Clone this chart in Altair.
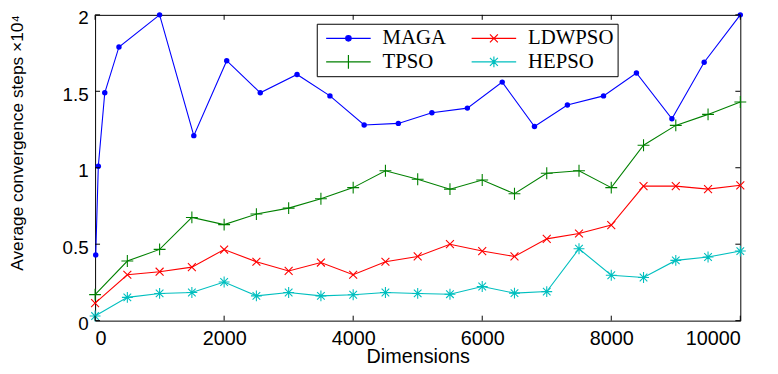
import altair as alt
import pandas as pd

# ---- data ----
series_names = ["MAGA", "LDWPSO", "TPSO", "HEPSO"]
series_colors = ["#0000FF", "#FF0000", "#008000", "#00BFBF"]

maga_x = [10, 50, 150, 370, 1000, 1530, 2040, 2560, 3130, 3640, 4170, 4700,
          5220, 5770, 6310, 6810, 7320, 7880, 8390, 8940, 9440, 10000]
maga_y = [0.43, 1.01, 1.49, 1.79, 2.0, 1.21, 1.70, 1.49, 1.61, 1.47, 1.28, 1.29,
          1.36, 1.39, 1.56, 1.27, 1.41, 1.47, 1.62, 1.32, 1.69, 2.0]

dims = [0, 500, 1000, 1500, 2000, 2500, 3000, 3500, 4000, 4500, 5000,
        5500, 6000, 6500, 7000, 7500, 8000, 8500, 9000, 9500, 10000]
tpso_y = [0.17, 0.39, 0.466, 0.675, 0.628, 0.697, 0.736, 0.797, 0.87, 0.98, 0.925,
          0.86, 0.92, 0.83, 0.964, 0.98, 0.87, 1.147, 1.277, 1.349, 1.43]
ldwpso_y = [0.115, 0.30, 0.32, 0.35, 0.465, 0.385, 0.325, 0.38, 0.30, 0.385, 0.42,
            0.50, 0.455, 0.42, 0.535, 0.57, 0.625, 0.88, 0.88, 0.86, 0.885]
hepso_y = [0.03, 0.152, 0.178, 0.184, 0.253, 0.162, 0.184, 0.162, 0.169, 0.184, 0.178,
           0.173, 0.223, 0.18, 0.19, 0.47, 0.297, 0.282, 0.394, 0.416, 0.455]

x_ticks = [0, 2000, 4000, 6000, 8000, 10000]
y_ticks = [0, 0.5, 1, 1.5, 2]

# ---- marker shapes ----
PLUS = "M-1,0L1,0M0,-1L0,1"
CROSS = "M-1,-1L1,1M-1,1L1,-1"
STAR = "M-1,0L1,0M0,-1L0,1M-0.7,-0.7L0.7,0.7M-0.7,0.7L0.7,-0.7"

# legend symbols: line + marker (units of 5px)
LEG_DOT = ("M-4.5,0L4.5,0M-0.55,0A0.55,0.55 0 1,0 0.55,0A0.55,0.55 0 1,0 -0.55,0"
           "M-0.25,0A0.25,0.25 0 1,0 0.25,0A0.25,0.25 0 1,0 -0.25,0")
LEG_CROSS = "M-4.5,0L4.5,0M-0.8,-0.8L0.8,0.8M-0.8,0.8L0.8,-0.8"
LEG_PLUS = "M-4.5,0L4.5,0M0,-1.4L0,1.4M-1.4,0L1.4,0"
LEG_STAR = "M-4.5,0L4.5,0M0,-1.1L0,1.1M-1.1,0L1.1,0M-0.8,-0.8L0.8,0.8M-0.8,0.8L0.8,-0.8"
legend_shapes = [LEG_DOT, LEG_CROSS, LEG_PLUS, LEG_STAR]

rows = []
for x, y in zip(maga_x, maga_y):
    rows.append({"series": "MAGA", "x": x, "y": y})
for name, ys in [("TPSO", tpso_y), ("LDWPSO", ldwpso_y), ("HEPSO", hepso_y)]:
    for x, y in zip(dims, ys):
        rows.append({"series": name, "x": x, "y": y})
df = pd.DataFrame(rows)

tick_x_df = pd.DataFrame({"x": x_ticks})
tick_y_df = pd.DataFrame({"y": y_ticks})

W, H = 652, 309

xs = alt.Scale(domain=[0, 10000], nice=False, zero=False)
ys = alt.Scale(domain=[0, 2], nice=False)
cscale = alt.Scale(domain=series_names, range=series_colors)

base = alt.Chart(df)

x_enc = alt.X("x:Q", scale=xs, axis=alt.Axis(
    values=x_ticks, format="d", title="Dimensions", labelPadding=8,
    titleBaseline="top", titleY=26))
y_enc = alt.Y("y:Q", scale=ys, axis=alt.Axis(
    values=y_ticks, format="~g", title="Average convergence steps \u00d710\u2074",
    labelPadding=7, labelOffset=3, labelFontSize=19,
    titleX=-69, titleY=129, titleFontSize=17.5))

leg = alt.Legend(
    title=None, orient="none", legendX=224, legendY=9, columns=2,
    direction="horizontal",
    padding=4, strokeColor="black", fillColor="white", cornerRadius=0,
    labelFont="Liberation Serif", labelFontSize=21, labelColor="black",
    symbolSize=100, symbolStrokeWidth=1.2, symbolOffset=17.5, labelOffset=24,
    symbolOpacity=1, columnPadding=20, rowPadding=2,
)

lines = base.mark_line(strokeWidth=1.1).encode(
    x=x_enc, y=y_enc,
    color=alt.Color("series:N", scale=cscale, legend=leg),
    shape=alt.Shape("series:N", scale=alt.Scale(domain=series_names, range=legend_shapes), legend=leg),
    detail="series:N",
)

marker_layers = []
marker_specs = [
    ("MAGA", "circle", 30, True, "#0000FF"),
    ("LDWPSO", CROSS, 64, False, "#FF0000"),
    ("TPSO", PLUS, 144, False, "#008000"),
    ("HEPSO", STAR, 121, False, "#00BFBF"),
]
for name, shape, size, filled, col in marker_specs:
    marker_layers.append(
        base.transform_filter(alt.datum.series == name)
        .mark_point(shape=shape, size=size, filled=filled, color=col,
                    strokeWidth=1.1, opacity=1)
        .encode(x=x_enc, y=y_enc)
    )

# inward tick marks on all four sides
tb = alt.Chart(tick_x_df).mark_rule(color="black", strokeWidth=1).encode(
    x=x_enc, y=alt.value(H), y2=alt.value(H - 5))
tt = alt.Chart(tick_x_df).mark_rule(color="black", strokeWidth=1).encode(
    x=x_enc, y=alt.value(0), y2=alt.value(5))
tl = alt.Chart(tick_y_df).mark_rule(color="black", strokeWidth=1).encode(
    y=y_enc, x=alt.value(0), x2=alt.value(5))
tr = alt.Chart(tick_y_df).mark_rule(color="black", strokeWidth=1).encode(
    y=y_enc, x=alt.value(W), x2=alt.value(W - 5))

chart = alt.layer(lines, *marker_layers, tb, tt, tl, tr).properties(
    width=W, height=H,
    autosize=alt.AutoSizeParams(type="none"),
    padding={"left": 88, "top": 5, "right": 30, "bottom": 52},
    background="white",
).configure_view(stroke="black", strokeWidth=1).configure_axis(
    domain=False, ticks=False, grid=False,
    labelFont="Liberation Sans", labelFontSize=20, labelColor="black",
    titleFont="Liberation Sans", titleFontSize=20, titleColor="black",
    titleFontWeight="normal",
)

chart.save("out.html", embed_options={"renderer": "svg", "actions": False})
